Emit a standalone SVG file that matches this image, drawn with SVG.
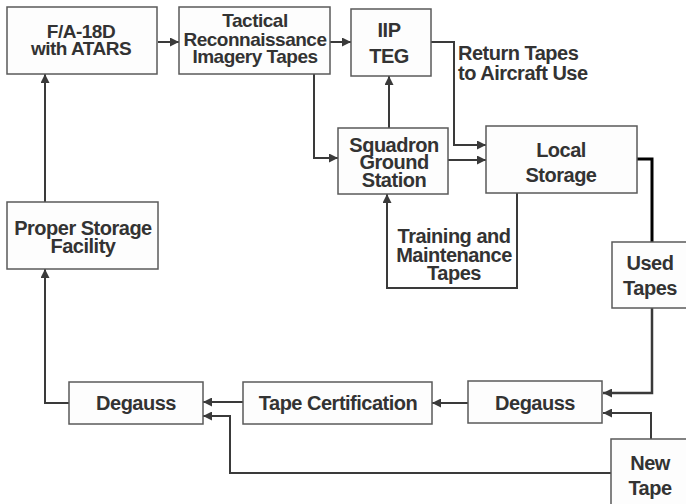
<svg xmlns="http://www.w3.org/2000/svg" width="686" height="504" viewBox="0 0 686 504">
<style>
.box{fill:#fdfdfd;stroke:#5a5a5a;stroke-width:1.5}
.t{font-family:"Liberation Sans",Arial,sans-serif;font-weight:bold;font-size:20px;letter-spacing:-0.5px;fill:#333;text-anchor:middle}
.s{font-size:19px}
.l{text-anchor:start}
.c{fill:none;stroke:#3a3a3a;stroke-width:2}
.k{fill:none;stroke:#000;stroke-width:3}
</style>
<defs>
<marker id="a" viewBox="0 0 10 10" refX="10" refY="5" markerWidth="9" markerHeight="9" markerUnits="userSpaceOnUse" orient="auto">
<path d="M0,0 L10,5 L0,10 z" fill="#3a3a3a"/>
</marker>
</defs>
<rect width="686" height="504" fill="#fff"/>
<g id="connectors">
<path class="c" d="M158,42 H179" marker-end="url(#a)"/>
<path class="c" d="M330,42 H351" marker-end="url(#a)"/>
<path class="c" d="M314,74 V158 H338" marker-end="url(#a)"/>
<path class="c" d="M389,128 V76" marker-end="url(#a)"/>
<path class="c" d="M431,42 H454 V145 H486" marker-end="url(#a)"/>
<path class="c" d="M448,160 H486" marker-end="url(#a)"/>
<path class="c" d="M517,193 V288 H387 V194" marker-end="url(#a)"/>
<path class="k" d="M637,159 H652 V242"/>
<path class="c" d="M652,308 V393 H603" marker-end="url(#a)" style="stroke-width:2.5"/>
<path class="c" d="M651,439 V413 H603" marker-end="url(#a)"/>
<path class="c" d="M468,403 H432" marker-end="url(#a)"/>
<path class="c" d="M243,402 H203" marker-end="url(#a)"/>
<path class="c" d="M611,473 H230 V416 H203" marker-end="url(#a)"/>
<path class="c" d="M69,403 H45 V269" marker-end="url(#a)"/>
<path class="c" d="M45,202 V74" marker-end="url(#a)"/>
</g>
<g id="fa18d">
<rect class="box" x="7" y="7" width="150" height="67"/>
<text class="t s" x="81" y="38">F/A-18D</text>
<text class="t s" x="81" y="55">with ATARS</text>
</g>
<g id="tactical">
<rect class="box" x="179" y="7" width="151" height="67"/>
<text class="t s" x="255" y="27">Tactical</text>
<text class="t s" x="255" y="46">Reconnaissance</text>
<text class="t s" x="255" y="63">Imagery Tapes</text>
</g>
<g id="iipteg">
<rect class="box" x="351" y="9" width="80" height="67"/>
<text class="t" x="389" y="37">IIP</text>
<text class="t" x="389" y="63">TEG</text>
</g>
<g id="returnlabel">
<text class="t l" x="458" y="60">Return Tapes</text>
<text class="t l" x="458" y="80">to Aircraft Use</text>
</g>
<g id="squadron">
<rect class="box" x="338" y="128" width="110" height="66"/>
<text class="t" x="394" y="152">Squadron</text>
<text class="t" x="394" y="169">Ground</text>
<text class="t" x="394" y="187">Station</text>
</g>
<g id="local">
<rect class="box" x="486" y="126" width="151" height="67"/>
<text class="t" x="561" y="157">Local</text>
<text class="t" x="561" y="182">Storage</text>
</g>
<g id="traininglabel">
<text class="t" x="454" y="243">Training and</text>
<text class="t" x="454" y="262">Maintenance</text>
<text class="t" x="454" y="280">Tapes</text>
</g>
<g id="used">
<rect class="box" x="612" y="242" width="80" height="66"/>
<text class="t" x="650" y="270">Used</text>
<text class="t" x="650" y="295">Tapes</text>
</g>
<g id="proper">
<rect class="box" x="7" y="202" width="151" height="67"/>
<text class="t" x="83" y="235">Proper Storage</text>
<text class="t" x="83" y="253">Facility</text>
</g>
<g id="degauss1">
<rect class="box" x="69" y="382" width="134" height="42"/>
<text class="t" x="136" y="410">Degauss</text>
</g>
<g id="cert">
<rect class="box" x="243" y="382" width="189" height="42"/>
<text class="t" x="338" y="410">Tape Certification</text>
</g>
<g id="degauss2">
<rect class="box" x="468" y="381" width="134" height="42"/>
<text class="t" x="535" y="410">Degauss</text>
</g>
<g id="newtape">
<rect class="box" x="611" y="439" width="80" height="70"/>
<text class="t" x="650" y="470">New</text>
<text class="t" x="650" y="495">Tape</text>
</g>
</svg>
